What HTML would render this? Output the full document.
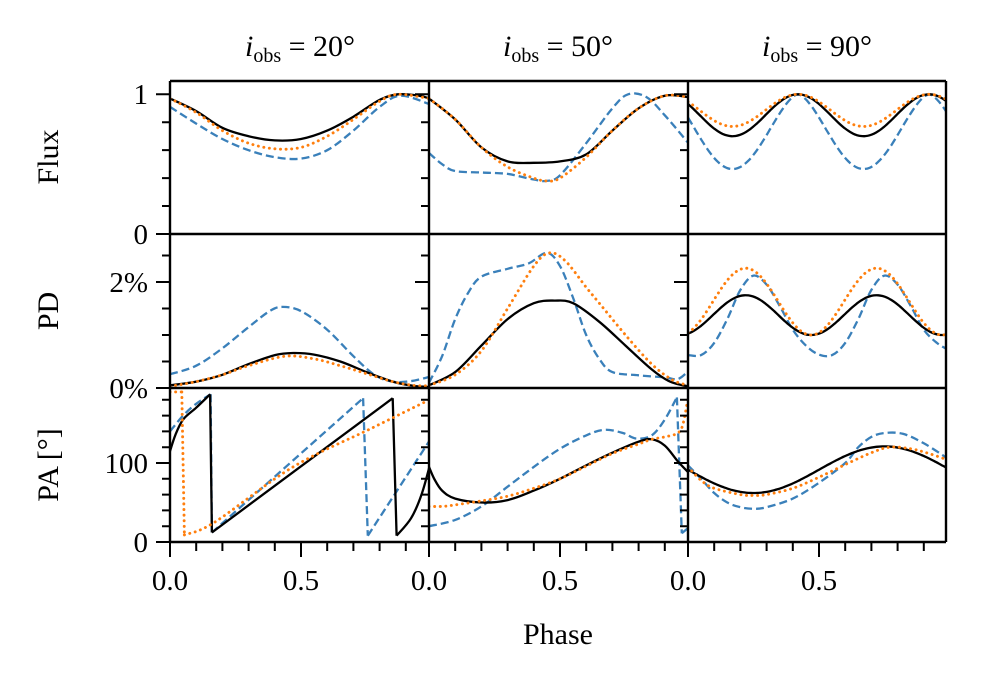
<!DOCTYPE html>
<html><head><meta charset="utf-8"><style>
html,body{margin:0;padding:0;background:#fff;}
svg text{font-family:"Liberation Serif","DejaVu Serif",serif;fill:#000;}
</style></head><body>
<svg id="s" width="1000" height="685" viewBox="0 0 1000 685" xmlns="http://www.w3.org/2000/svg">
<defs>
<clipPath id="c0"><rect x="170" y="81" width="259" height="461"/></clipPath>
<clipPath id="c1"><rect x="429" y="81" width="259" height="461"/></clipPath>
<clipPath id="c2"><rect x="688" y="81" width="258" height="461"/></clipPath>
</defs>
<g id="curves"></g>
<g id="axes" stroke="#000" fill="none"></g>
<g font-size="30">
<text x="300" y="56" text-anchor="middle"><tspan font-style="italic">i</tspan><tspan font-size="20" dy="6">obs</tspan><tspan dy="-6"> = 20°</tspan></text>
<text x="558" y="56" text-anchor="middle"><tspan font-style="italic">i</tspan><tspan font-size="20" dy="6">obs</tspan><tspan dy="-6"> = 50°</tspan></text>
<text x="817" y="56" text-anchor="middle"><tspan font-style="italic">i</tspan><tspan font-size="20" dy="6">obs</tspan><tspan dy="-6"> = 90°</tspan></text>
</g>
<g font-size="29" text-anchor="end">
<text x="148" y="104">1</text>
<text x="148" y="244">0</text>
<text x="148" y="292">2%</text>
<text x="148" y="398">0%</text>
<text x="148" y="473">100</text>
<text x="148" y="552">0</text>
</g>
<g font-size="29" text-anchor="middle">
<text x="170" y="590">0.0</text><text x="301" y="590">0.5</text>
<text x="429" y="590">0.0</text><text x="560" y="590">0.5</text>
<text x="688" y="590">0.0</text><text x="819" y="590">0.5</text>
<text x="558" y="644" font-size="30">Phase</text>
<text transform="translate(58,157) rotate(-90)" font-size="30">Flux</text>
<text transform="translate(58,311) rotate(-90)" font-size="30">PD</text>
<text transform="translate(58,465) rotate(-90)" font-size="30">PA [°]</text>
</g>
</svg>
<script>
var NS="http://www.w3.org/2000/svg";
var X0=[170,429,688],SX=262;
function fy(v){return 234-139.7*v;} function py(v){return 388-53*v;} function ay(v){return 542-0.79*v;}
function cr(pts){
 if(pts.length<3){return "M"+pts.map(p=>p[0].toFixed(1)+","+p[1].toFixed(1)).join("L");}
 var d="M"+pts[0][0].toFixed(1)+","+pts[0][1].toFixed(1);
 for(var i=0;i<pts.length-1;i++){
  var p0=pts[i-1]||pts[i],p1=pts[i],p2=pts[i+1],p3=pts[i+2]||p2;
  var c1=[p1[0]+(p2[0]-p0[0])/6,p1[1]+(p2[1]-p0[1])/6],c2=[p2[0]-(p3[0]-p1[0])/6,p2[1]-(p3[1]-p1[1])/6];
  d+="C"+c1[0].toFixed(1)+","+c1[1].toFixed(1)+" "+c2[0].toFixed(1)+","+c2[1].toFixed(1)+" "+p2[0].toFixed(1)+","+p2[1].toFixed(1);
 }
 return d;
}
function fn(f){var a=[];for(var i=0;i<=60;i++){var t=i/60*0.99;a.push([t,f(t)]);}return a;}
var C={k:"#000",b:"#3a80ba",o:"#ff7f0e"};
var S=[];
function add(col,map,c,segs){S.push({col:col,map:map,c:c,segs:segs});}
var cs=Math.cos,P=Math.PI;
add(0,fy,"b",[[[0,0.91],[0.1,0.79],[0.2,0.68],[0.3,0.6],[0.4,0.55],[0.5,0.54],[0.6,0.6],[0.7,0.74],[0.8,0.91],[0.88,0.99],[0.99,0.93]]]);
add(0,fy,"k",[[[0,0.97],[0.1,0.88],[0.2,0.76],[0.3,0.7],[0.4,0.67],[0.5,0.68],[0.6,0.74],[0.7,0.84],[0.8,0.96],[0.87,1.0],[0.95,0.99],[0.99,0.97]]]);
add(0,fy,"o",[[[0,0.97],[0.1,0.87],[0.2,0.74],[0.3,0.65],[0.4,0.61],[0.5,0.62],[0.6,0.7],[0.7,0.82],[0.8,0.95],[0.87,1.0],[0.99,0.97]]]);
add(1,fy,"b",[[[0,0.58],[0.05,0.5],[0.1,0.45],[0.2,0.44],[0.3,0.43],[0.4,0.39],[0.45,0.38],[0.5,0.42],[0.6,0.65],[0.7,0.9],[0.76,1.0],[0.83,0.98],[0.9,0.85],[0.99,0.65]]]);
add(1,fy,"k",[[[0,0.97],[0.1,0.82],[0.2,0.62],[0.3,0.52],[0.4,0.51],[0.5,0.52],[0.6,0.57],[0.7,0.74],[0.8,0.9],[0.9,0.99],[0.99,0.98]]]);
add(1,fy,"o",[[[0,0.97],[0.1,0.82],[0.2,0.62],[0.3,0.48],[0.4,0.4],[0.45,0.38],[0.5,0.4],[0.6,0.55],[0.7,0.74],[0.8,0.9],[0.9,0.99],[0.99,0.98]]]);
add(2,fy,"b",[fn(t=>1-0.535*Math.pow((1-cs(4*P*(t-0.42)))/2,0.8))]);
add(2,fy,"k",[fn(t=>0.85+0.15*cs(4*P*(t-0.42)))]);
add(2,fy,"o",[fn(t=>0.885+0.115*cs(4*P*(t-0.42)))]);
add(0,py,"b",[[[0,0.26],[0.1,0.42],[0.2,0.75],[0.3,1.15],[0.38,1.45],[0.43,1.53],[0.5,1.45],[0.6,1.1],[0.7,0.6],[0.78,0.25],[0.85,0.12],[0.92,0.13],[0.99,0.21]]]);
add(0,py,"k",[[[0,0.05],[0.1,0.12],[0.2,0.25],[0.3,0.45],[0.4,0.62],[0.47,0.66],[0.55,0.63],[0.65,0.5],[0.75,0.3],[0.85,0.12],[0.93,0.04],[0.99,0.02]]]);
add(0,py,"o",[[[0,0.03],[0.1,0.12],[0.2,0.25],[0.3,0.42],[0.44,0.6],[0.55,0.55],[0.65,0.42],[0.75,0.27],[0.85,0.12],[0.93,0.05],[0.99,0.04]]]);
add(1,py,"b",[[[0,0.1],[0.05,0.6],[0.1,1.3],[0.15,1.8],[0.2,2.1],[0.3,2.25],[0.38,2.35],[0.45,2.55],[0.5,2.3],[0.55,1.7],[0.6,1.0],[0.65,0.55],[0.7,0.3],[0.8,0.24],[0.9,0.2],[0.95,0.17],[0.99,0.32]]]);
add(1,py,"k",[[[0,0.05],[0.1,0.3],[0.2,0.8],[0.3,1.3],[0.4,1.6],[0.48,1.65],[0.55,1.6],[0.65,1.25],[0.75,0.8],[0.85,0.35],[0.92,0.12],[0.99,0.03]]]);
add(1,py,"o",[[[0,0.05],[0.1,0.25],[0.2,0.7],[0.3,1.5],[0.4,2.3],[0.46,2.55],[0.52,2.4],[0.6,1.9],[0.65,1.6],[0.75,1.0],[0.85,0.45],[0.93,0.15],[0.99,0.05]]]);
add(2,py,"b",[[[0,0.62],[0.05,0.62],[0.1,0.85],[0.15,1.3],[0.2,1.85],[0.25,2.12],[0.3,1.95],[0.35,1.55],[0.4,1.1],[0.45,0.8],[0.5,0.63],[0.55,0.62],[0.6,0.85],[0.65,1.3],[0.7,1.85],[0.75,2.12],[0.8,1.95],[0.85,1.55],[0.9,1.1],[0.95,0.85],[0.99,0.73]]]);
add(2,py,"k",[fn(t=>1.375+0.375*cs(4*P*(t-0.22)))]);
add(2,py,"o",[fn(t=>1.63+0.63*cs(4*P*(t-0.22)))]);
add(0,ay,"b",[[[0,140],[0.05,160],[0.1,175],[0.155,187]],[[0.155,187],[0.16,12]],[[0.16,12],[0.737,182]],[[0.737,182],[0.755,8]],[[0.755,8],[0.99,128]]]);
add(0,ay,"k",[[[0,115],[0.02,135],[0.05,155],[0.1,170],[0.153,187]],[[0.153,187],[0.16,12]],[[0.16,12],[0.85,182]],[[0.85,182],[0.865,8]],[[0.865,8],[0.92,30],[0.96,60],[0.99,95]]]);
add(0,ay,"o",[[[0,190],[0.045,190]],[[0.045,190],[0.055,9]],[[0.055,9],[0.17,25],[0.47,95],[0.77,144],[0.99,180]]]);
add(1,ay,"b",[[[0,20],[0.1,28],[0.2,45],[0.3,70],[0.4,95],[0.5,118],[0.6,135],[0.67,142],[0.74,138],[0.79,131],[0.85,135],[0.9,155],[0.946,183]],[[0.946,183],[0.965,11]],[[0.965,11],[0.99,18]]]);
add(1,ay,"k",[[[0,95],[0.02,80],[0.05,65],[0.1,55],[0.2,50],[0.3,53],[0.4,65],[0.5,80],[0.6,97],[0.7,113],[0.8,127],[0.85,130],[0.9,122],[0.95,102],[0.99,88]]]);
add(1,ay,"o",[[[0,45],[0.05,45],[0.1,47],[0.2,52],[0.3,58],[0.4,68],[0.5,80],[0.6,96],[0.7,112],[0.8,124],[0.85,130],[0.9,133],[0.95,138],[0.97,150],[0.99,185]]]);
add(2,ay,"b",[[[0,97],[0.05,80],[0.1,62],[0.15,50],[0.2,44],[0.25,42],[0.3,44],[0.4,55],[0.5,75],[0.6,100],[0.65,120],[0.7,133],[0.75,138],[0.82,137],[0.9,125],[0.99,106]]]);
add(2,ay,"k",[fn(t=>91.5+29.5*cs(2*P*(t-0.75)))]);
add(2,ay,"o",[[[0,95],[0.05,78],[0.1,68],[0.2,60],[0.25,59],[0.3,60],[0.4,68],[0.5,82],[0.6,98],[0.7,113],[0.77,120],[0.85,118],[0.92,112],[0.99,104]]]);
var G=document.getElementById("curves");
S.forEach(function(s){
 var d="";
 s.segs.forEach(function(seg){
  var pts=seg.map(p=>[X0[s.col]+SX*p[0],s.map(p[1])]);
  d+=(seg.length<=2?"M"+pts.map(p=>p[0].toFixed(1)+","+p[1].toFixed(1)).join("L"):cr(pts));
 });
 var e=document.createElementNS(NS,"path");
 e.setAttribute("d",d);e.setAttribute("fill","none");e.setAttribute("stroke",C[s.c]);
 e.setAttribute("clip-path","url(#c"+s.col+")");
 if(s.c=="k"){e.setAttribute("stroke-width","2.3");}
 if(s.c=="b"){e.setAttribute("stroke-width","2.3");e.setAttribute("stroke-dasharray","8,4");}
 if(s.c=="o"){e.setAttribute("stroke-width","2.9");e.setAttribute("stroke-dasharray","0.1,5.5");e.setAttribute("stroke-linecap","round");}
 G.appendChild(e);
});
var A=document.getElementById("axes"),ad="";
function L(x1,y1,x2,y2){ad+="M"+x1+","+y1+"L"+x2+","+y2;}
var xs=[170,429,688,946];
for(var c=0;c<3;c++){
 var x=xs[c];
 for(var k=0;k<=5;k++){var v=k*0.2;L(x,fy(v),x-(k==0||k==5?14:8),fy(v));}
 for(var k=0;k<=5;k++){var v=k*0.5;L(x,py(v),x-(k%4==0?14:8),py(v));}
 for(var k=0;k<=9;k++){var v=k*20;L(x,ay(v),x-(v==0||v==100?14:8),ay(v));}
 for(var k=0;k<=9;k++){var xx=x+SX*k*0.1;L(xx,542,xx,542+(k%5==0?15:9));}
}
var p=document.createElementNS(NS,"path");p.setAttribute("d",ad);p.setAttribute("stroke-width","2");A.appendChild(p);
var fr="";
[81,234,388,542].forEach(y=>fr+="M170,"+y+"L946,"+y);
xs.forEach(x=>fr+="M"+x+",81L"+x+",542");
var q=document.createElementNS(NS,"path");q.setAttribute("d",fr);q.setAttribute("stroke-width","2.4");A.appendChild(q);
</script>
</body></html>
